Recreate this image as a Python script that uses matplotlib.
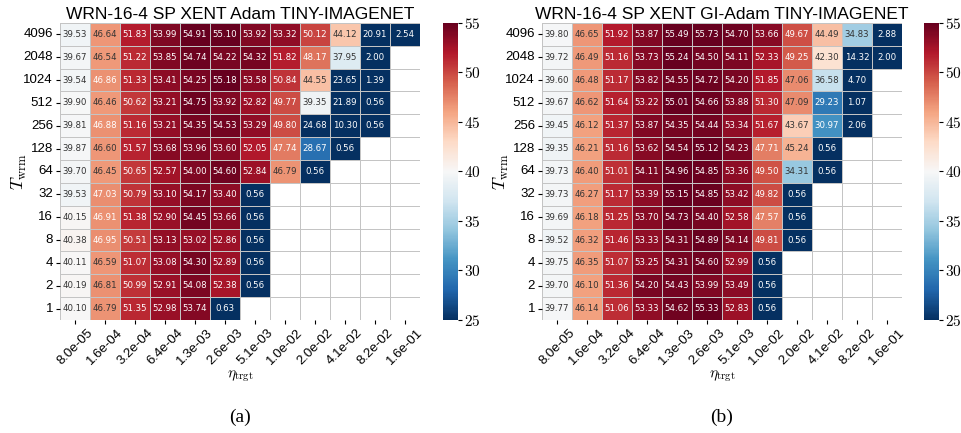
import numpy as np
import matplotlib
matplotlib.use("Agg")
import matplotlib.pyplot as plt
import seaborn as sns

# learning rates (columns) and warm-up lengths (rows)
lrs = ["8.0e-05", "1.6e-04", "3.2e-04", "6.4e-04", "1.3e-03", "2.6e-03",
       "5.1e-03", "1.0e-02", "2.0e-02", "4.1e-02", "8.2e-02", "1.6e-01"]
warmups = [4096, 2048, 1024, 512, 256, 128, 64, 32, 16, 8, 4, 2, 1]
nan = np.nan

# (a) Adam
acc_adam = [
    [39.53, 46.64, 51.83, 53.99, 54.91, 55.10, 53.92, 53.32, 50.12, 44.12, 20.91, 2.54],
    [39.67, 46.54, 51.22, 53.85, 54.74, 54.22, 54.32, 51.82, 48.17, 37.95, 2.00, nan],
    [39.54, 46.86, 51.33, 53.41, 54.25, 55.18, 53.58, 50.84, 44.55, 23.65, 1.39, nan],
    [39.90, 46.46, 50.62, 53.21, 54.75, 53.92, 52.82, 49.77, 39.35, 21.89, 0.56, nan],
    [39.81, 46.88, 51.16, 53.21, 54.35, 54.53, 53.29, 49.80, 24.68, 10.30, 0.56, nan],
    [39.87, 46.60, 51.57, 53.68, 53.96, 53.60, 52.05, 47.74, 28.67, 0.56, nan, nan],
    [39.70, 46.45, 50.65, 52.57, 54.00, 54.60, 52.84, 46.79, 0.56, nan, nan, nan],
    [39.53, 47.03, 50.79, 53.10, 54.17, 53.40, 0.56, nan, nan, nan, nan, nan],
    [40.15, 46.91, 51.38, 52.90, 54.45, 53.66, 0.56, nan, nan, nan, nan, nan],
    [40.38, 46.95, 50.51, 53.13, 53.02, 52.86, 0.56, nan, nan, nan, nan, nan],
    [40.11, 46.59, 51.07, 53.08, 54.30, 52.89, 0.56, nan, nan, nan, nan, nan],
    [40.19, 46.81, 50.99, 52.91, 54.08, 52.38, 0.56, nan, nan, nan, nan, nan],
    [40.10, 46.79, 51.35, 52.98, 53.74, 0.63, nan, nan, nan, nan, nan, nan],
]

# (b) GI-Adam
acc_giadam = [
    [39.80, 46.65, 51.92, 53.87, 55.49, 55.73, 54.70, 53.66, 49.67, 44.49, 34.83, 2.88],
    [39.72, 46.49, 51.16, 53.73, 55.24, 54.50, 54.11, 52.33, 49.25, 42.30, 14.32, 2.00],
    [39.60, 46.48, 51.17, 53.82, 54.55, 54.72, 54.20, 51.85, 47.06, 36.58, 4.70, nan],
    [39.67, 46.62, 51.64, 53.22, 55.01, 54.66, 53.88, 51.30, 47.09, 29.23, 1.07, nan],
    [39.45, 46.12, 51.37, 53.87, 54.35, 54.44, 53.34, 51.67, 43.67, 30.97, 2.06, nan],
    [39.35, 46.21, 51.16, 53.62, 54.54, 55.12, 54.23, 47.71, 45.24, 0.56, nan, nan],
    [39.73, 46.40, 51.01, 54.11, 54.96, 54.85, 53.36, 49.50, 34.31, 0.56, nan, nan],
    [39.73, 46.27, 51.17, 53.39, 55.15, 54.85, 53.42, 49.82, 0.56, nan, nan, nan],
    [39.69, 46.18, 51.25, 53.70, 54.73, 54.40, 52.58, 47.57, 0.56, nan, nan, nan],
    [39.52, 46.32, 51.46, 53.33, 54.31, 54.89, 54.14, 49.81, 0.56, nan, nan, nan],
    [39.75, 46.35, 51.07, 53.25, 54.31, 54.60, 52.99, 0.56, nan, nan, nan, nan],
    [39.70, 46.10, 51.36, 54.20, 54.43, 53.99, 53.49, 0.56, nan, nan, nan, nan],
    [39.77, 46.14, 51.06, 53.33, 54.62, 55.33, 52.83, 0.56, nan, nan, nan, nan],
]

plt.rcParams["mathtext.fontset"] = "cm"
sans = "Liberation Sans"

fig = plt.figure(figsize=(9.61, 4.33), dpi=100)


def panel(data, title, x0, cbx, tag, hi):
    arr = np.array(data, dtype=float)
    ax = fig.add_axes([x0, 0.261, 0.3746, 0.686])
    cax = fig.add_axes([cbx, 0.261, 0.0156, 0.686])
    sns.heatmap(arr, ax=ax, cbar_ax=cax,
                cmap="RdBu_r", vmin=25, vmax=55,
                annot=True, fmt=".2f", annot_kws={"size": 6.2},
                linewidths=0.6, linecolor="#c4c4c4",
                xticklabels=lrs, yticklabels=warmups)
    # text colour: dark on pale cells, white on saturated ones
    for t in ax.texts:
        v = float(t.get_text())
        t.set_color("white" if (v < 32 or v > hi) else "#333333")
    ax.set_title(title, fontsize=12.5, family=sans, pad=3)
    ax.set_xticklabels(lrs, rotation=45, ha="center", fontsize=9.5, family=sans)
    ax.set_yticklabels(warmups, rotation=0, fontsize=9.5, family=sans)
    ax.tick_params(length=3, width=0.8, pad=2)
    ax.set_xlabel(r"$\eta_{\mathrm{trgt}}$", fontsize=11)
    ax.xaxis.set_label_coords(0.5, -0.165)
    ax.set_ylabel(r"$T_{\mathrm{wrm}}$", fontsize=13)
    ax.yaxis.set_label_coords(-0.085, 0.5)
    ticks = [25, 30, 35, 40, 45, 50, 55]
    cax.set_yticks(ticks)
    cax.set_yticklabels([f"${t}$" for t in ticks], fontsize=11)
    cax.tick_params(length=3, width=0.8, pad=1)
    fig.text(x0 + 0.3746 / 2, 0.037, tag, ha="center", va="center",
             fontsize=14, family="Liberation Serif")


panel(acc_adam, "WRN-16-4 SP XENT Adam TINY-IMAGENET", 0.0624, 0.461, "(a)", 46.85)
panel(acc_giadam, "WRN-16-4 SP XENT GI-Adam TINY-IMAGENET", 0.564, 0.9615, "(b)", 47.3)

fig.savefig("out.png", dpi=100)
